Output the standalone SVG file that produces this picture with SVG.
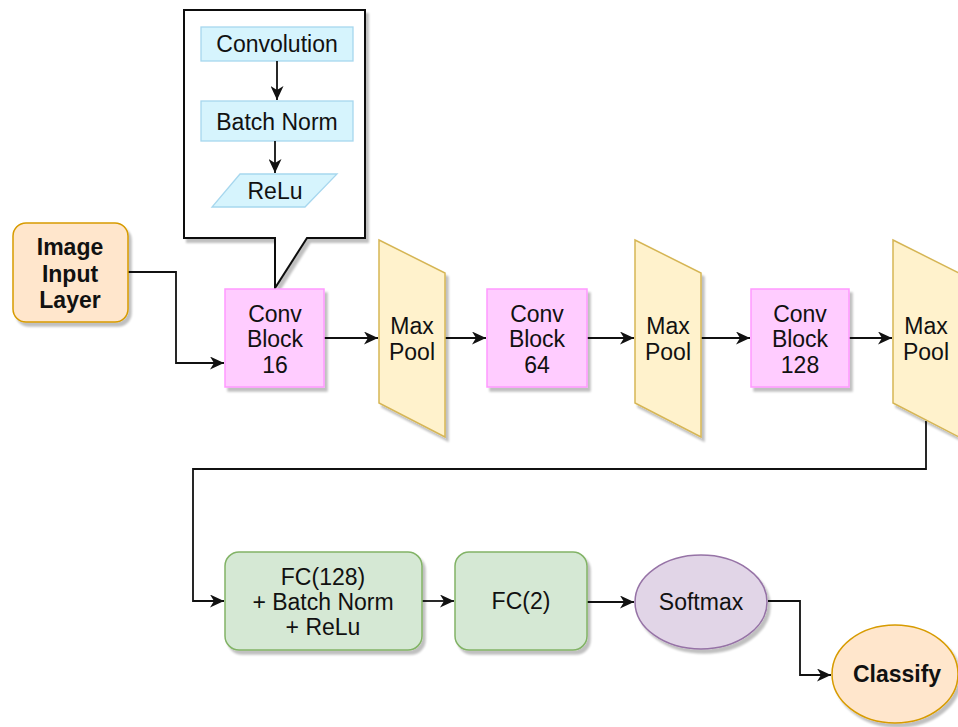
<svg xmlns="http://www.w3.org/2000/svg" width="958" height="727" viewBox="0 0 958 727">
  <style>
    text { font-family: "Liberation Sans", Arial, Helvetica, sans-serif; font-size: 23px; fill: #111; text-anchor: middle; }
    .b { font-weight: bold; }
    .edge { fill: none; stroke: #111; stroke-width: 1.8; }
    .inner { fill: #d6f4fd; stroke: #a7d7ee; stroke-width: 1.3; }
    .conv { fill: #ffccff; stroke: #ff99ff; stroke-width: 1.5; }
    .pool { fill: #fff2cc; stroke: #d6b656; stroke-width: 1.5; }
    .orange { fill: #ffe6cc; stroke: #d79b00; stroke-width: 1.5; }
    .green { fill: #d5e8d4; stroke: #82b366; stroke-width: 1.5; }
    .purple { fill: #e1d5e7; stroke: #9673a6; stroke-width: 1.5; }
  </style>
  <defs>
    <filter id="shadow" x="-10%" y="-10%" width="130%" height="130%">
      <feGaussianBlur in="SourceAlpha" stdDeviation="1.2"/>
      <feOffset dx="3" dy="4" result="off"/>
      <feComponentTransfer><feFuncA type="linear" slope="0.25"/></feComponentTransfer>
      <feMerge><feMergeNode/><feMergeNode in="SourceGraphic"/></feMerge>
    </filter>
    <marker id="arrow" markerUnits="userSpaceOnUse" markerWidth="15" markerHeight="13" refX="14" refY="6.5" orient="auto">
      <path d="M0,0 L14,6.5 L0,13 L4,6.5 Z" fill="#111"/>
    </marker>
  </defs>

  <rect width="958" height="727" fill="#fff"/>

  <!-- callout detailing the conv block -->
  <g id="callout">
    <path d="M184,10 H365 V238 H307 L275,288 V238 H184 Z" fill="#fff" stroke="#111" stroke-width="2" filter="url(#shadow)"/>
    <g id="convolution">
      <rect class="inner" x="201" y="27" width="152" height="34"/>
      <text x="277" y="52">Convolution</text>
    </g>
    <g id="batchnorm">
      <rect class="inner" x="201" y="101" width="152" height="40"/>
      <text x="277" y="130">Batch Norm</text>
    </g>
    <g id="relu">
      <path class="inner" d="M240,174 H337 L305,207 H212 Z"/>
      <text x="275" y="199">ReLu</text>
    </g>
    <path class="edge" d="M277,61 V100" marker-end="url(#arrow)"/>
    <path class="edge" d="M275,141 V173" marker-end="url(#arrow)"/>
  </g>

  <!-- connectors -->
  <g id="connectors">
    <path class="edge" d="M128,272 H176 V363 H224" marker-end="url(#arrow)"/>
    <path class="edge" d="M324,338 H378" marker-end="url(#arrow)"/>
    <path class="edge" d="M445,338 H486" marker-end="url(#arrow)"/>
    <path class="edge" d="M587,338 H634" marker-end="url(#arrow)"/>
    <path class="edge" d="M701,338 H750" marker-end="url(#arrow)"/>
    <path class="edge" d="M849,338 H892" marker-end="url(#arrow)"/>
    <path class="edge" d="M926,421 V469 H193 V601 H224" stroke="#333" marker-end="url(#arrow)"/>
    <path class="edge" d="M422,601 H454" marker-end="url(#arrow)"/>
    <path class="edge" d="M587,602 H634" marker-end="url(#arrow)"/>
    <path class="edge" d="M768,601 H800 V675 H831" marker-end="url(#arrow)"/>
  </g>

  <g id="input">
    <rect class="orange" x="13" y="223" width="115" height="99" rx="13" filter="url(#shadow)"/>
    <text class="b" x="70" y="255">Image</text>
    <text class="b" x="70" y="282">Input</text>
    <text class="b" x="70" y="308">Layer</text>
  </g>

  <g id="conv16">
    <rect class="conv" x="225" y="289" width="99" height="98" filter="url(#shadow)"/>
    <text x="275" y="322">Conv</text>
    <text x="275" y="347">Block</text>
    <text x="275" y="373">16</text>
  </g>

  <g id="pool1">
    <path class="pool" d="M379,240 L445,273 V437 L379,403 Z" filter="url(#shadow)"/>
    <text x="412" y="334">Max</text>
    <text x="412" y="360">Pool</text>
  </g>

  <g id="conv64">
    <rect class="conv" x="487" y="289" width="100" height="98" filter="url(#shadow)"/>
    <text x="537" y="322">Conv</text>
    <text x="537" y="347">Block</text>
    <text x="537" y="373">64</text>
  </g>

  <g id="pool2">
    <path class="pool" d="M635,240 L701,273 V437 L635,403 Z" filter="url(#shadow)"/>
    <text x="668" y="334">Max</text>
    <text x="668" y="360">Pool</text>
  </g>

  <g id="conv128">
    <rect class="conv" x="751" y="289" width="98" height="98" filter="url(#shadow)"/>
    <text x="800" y="322">Conv</text>
    <text x="800" y="347">Block</text>
    <text x="800" y="373">128</text>
  </g>

  <g id="pool3">
    <path class="pool" d="M893,240 L959,273 V437 L893,403 Z" filter="url(#shadow)"/>
    <text x="926" y="334">Max</text>
    <text x="926" y="360">Pool</text>
  </g>

  <g id="fc128">
    <rect class="green" x="225" y="552" width="197" height="98" rx="14" filter="url(#shadow)"/>
    <text x="323" y="585">FC(128)</text>
    <text x="323" y="610">+ Batch Norm</text>
    <text x="323" y="635">+ ReLu</text>
  </g>

  <g id="fc2">
    <rect class="green" x="455" y="552" width="132" height="98" rx="14" filter="url(#shadow)"/>
    <text x="521" y="609">FC(2)</text>
  </g>

  <g id="softmax">
    <ellipse class="purple" cx="701" cy="602" rx="66" ry="47" filter="url(#shadow)"/>
    <text x="701" y="610">Softmax</text>
  </g>

  <g id="classify">
    <ellipse class="orange" cx="895" cy="674" rx="63" ry="49" filter="url(#shadow)"/>
    <text class="b" x="897" y="682">Classify</text>
  </g>
</svg>
